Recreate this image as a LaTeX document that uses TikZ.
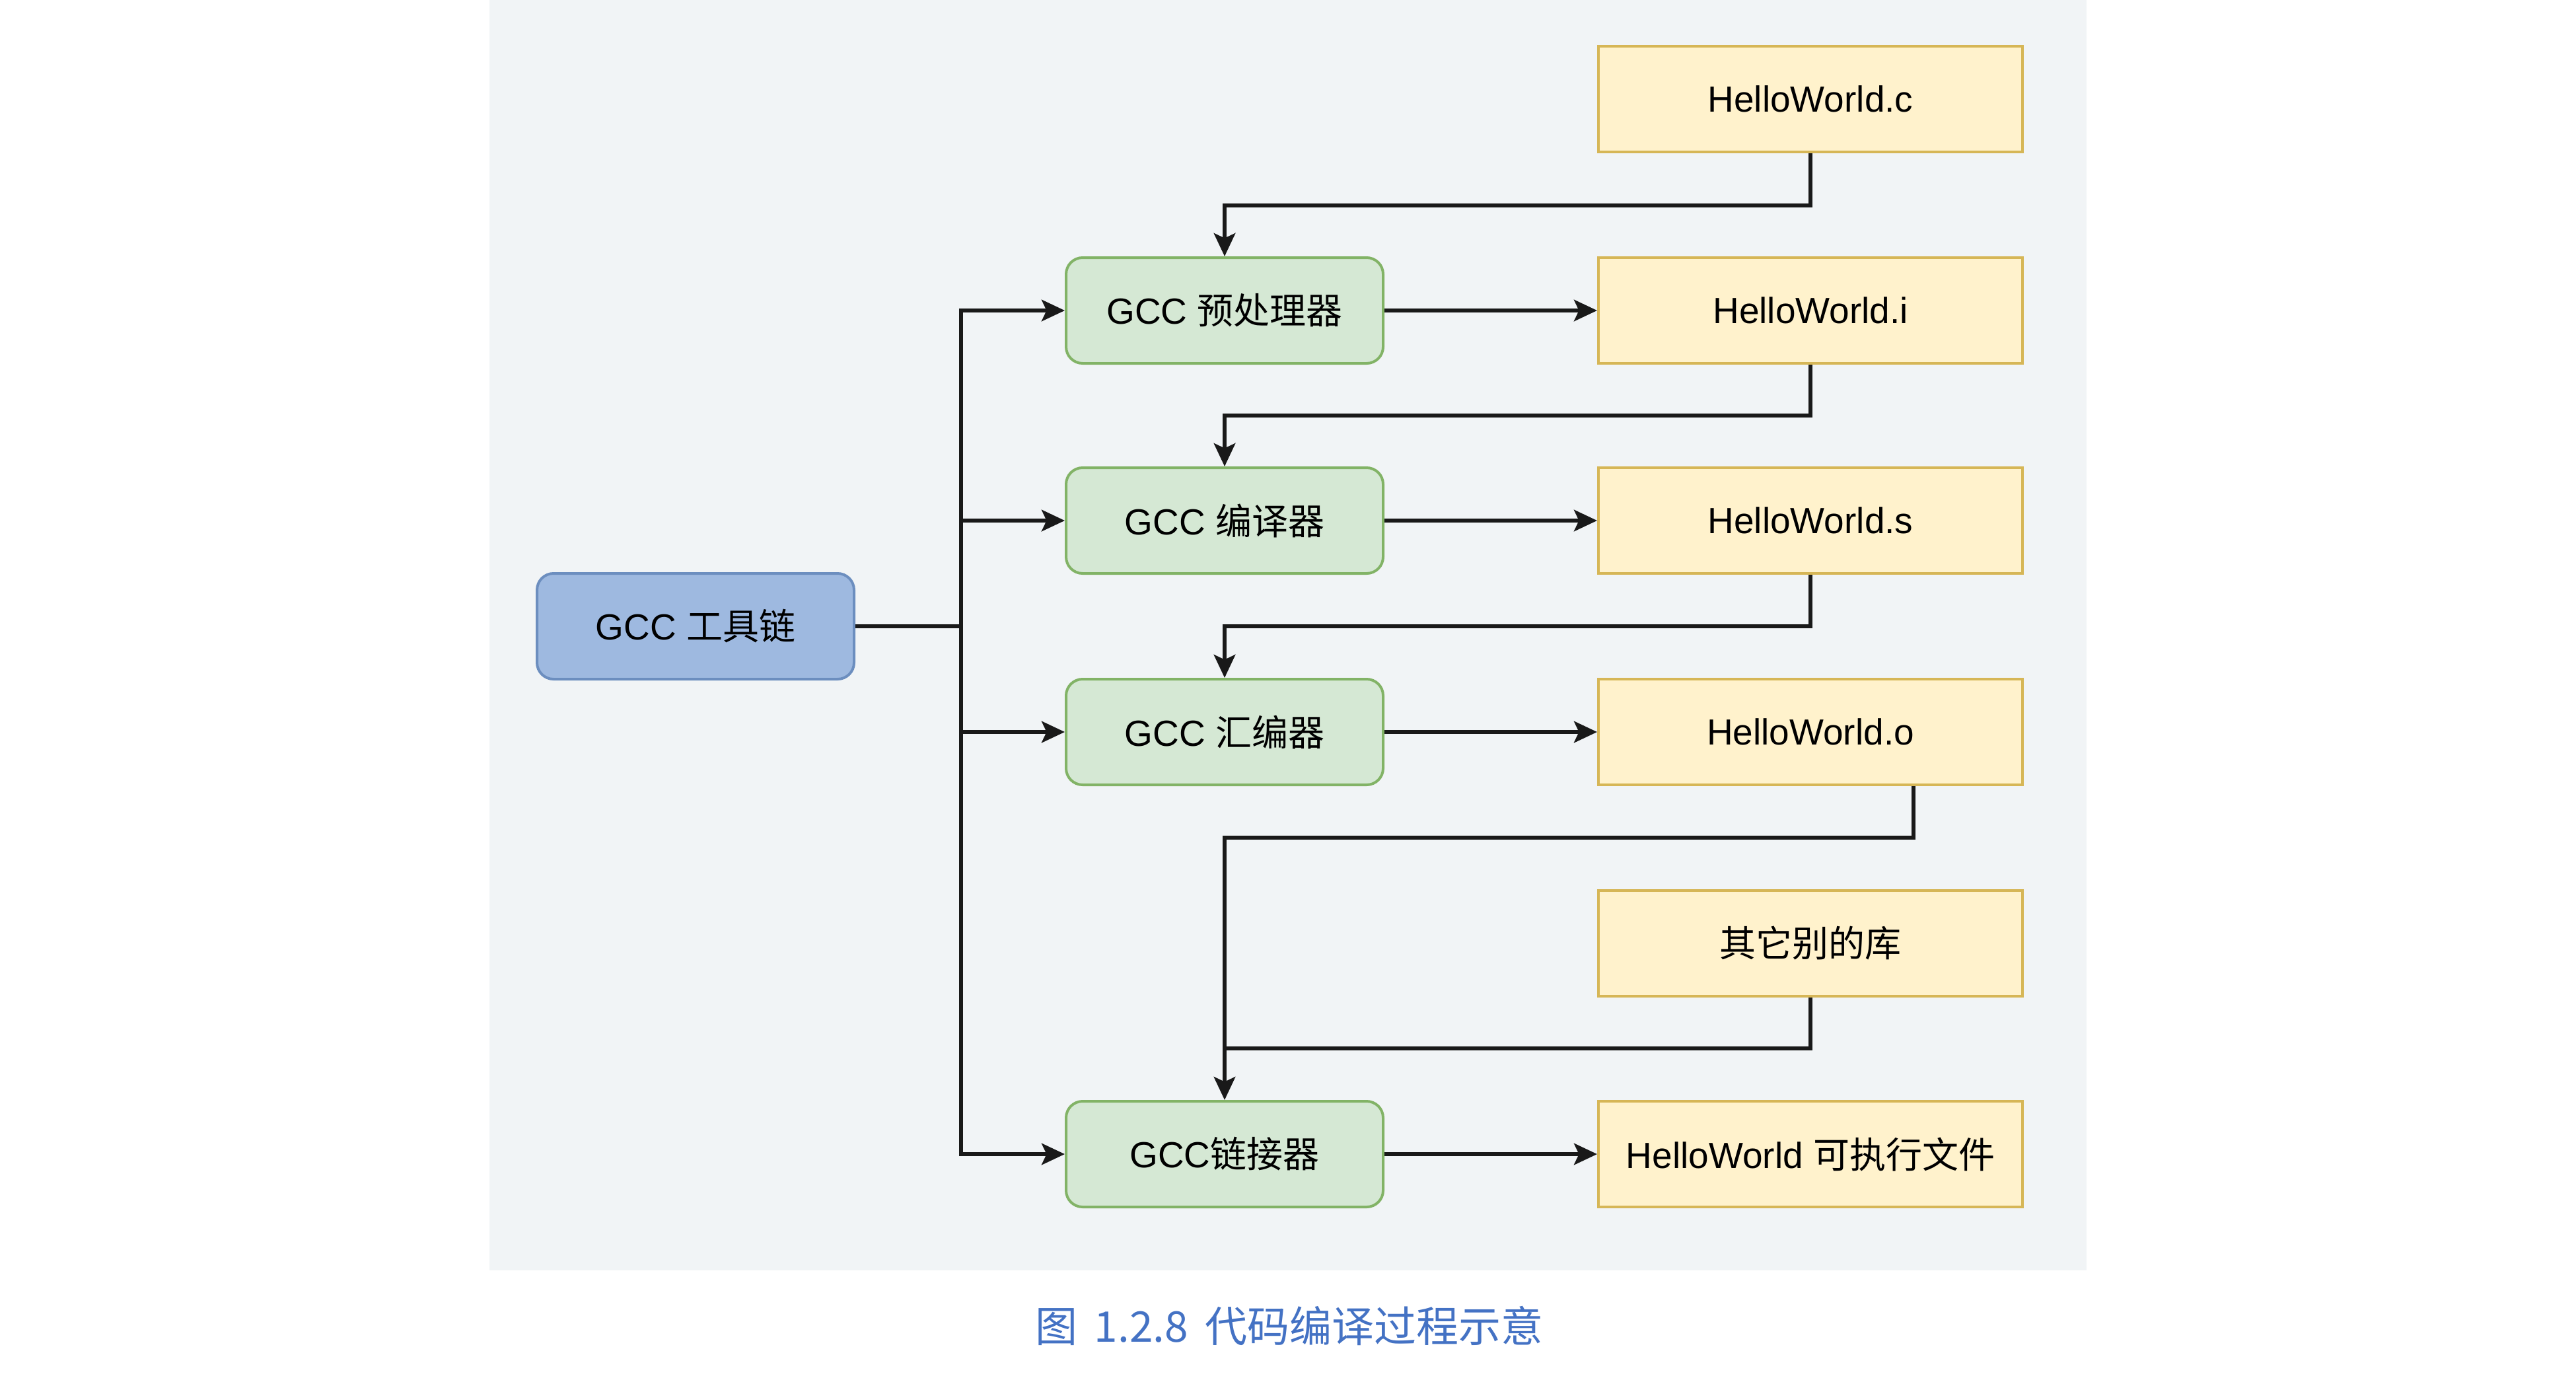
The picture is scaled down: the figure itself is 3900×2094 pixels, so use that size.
\documentclass[tikz,border=0pt]{standalone}
\usepackage{fontspec}
\setmainfont{Liberation Sans}
\newfontfamily\cjk{Noto Sans CJK SC}
\usetikzlibrary{arrows.meta}
\definecolor{panelbg}{HTML}{F1F4F6}
\definecolor{bluefill}{HTML}{9EB9E0}
\definecolor{blueline}{HTML}{6C8EBF}
\definecolor{greenfill}{HTML}{D5E8D4}
\definecolor{greenline}{HTML}{82B366}
\definecolor{yellowfill}{HTML}{FFF2CC}
\definecolor{yellowline}{HTML}{D6B656}
\definecolor{captionblue}{HTML}{4472C4}
\tikzset{
  basebox/.style={inner sep=0pt, minimum height=32pt, line width=0.8pt, font=\fontsize{11}{13}\selectfont, text=black},
  toolbox/.style={basebox, rounded corners=5pt, minimum width=96pt, fill=bluefill, draw=blueline},
  stagebox/.style={basebox, rounded corners=5pt, minimum width=96pt, fill=greenfill, draw=greenline},
  filebox/.style={basebox, minimum width=128.4pt, fill=yellowfill, draw=yellowline},
  conn/.style={line width=1.1pt, black!90},
  arr/.style={conn, -{Stealth[length=7pt,width=6.5pt,inset=1.5pt]}},
}
\begin{document}
\begin{tikzpicture}[x=0.2pt,y=-0.2pt]
\useasboundingbox (0,0) rectangle (3900,2094);
\fill[white] (0,0) rectangle (3900,2094);
\fill[panelbg] (741,0) rectangle (3159,1923);

\node[toolbox] (tool) at (1053,948) {GCC {\cjk 工具链}};
\node[stagebox] (pre) at (1854,470) {GCC {\cjk 预处理器}};
\node[stagebox] (comp) at (1854,788) {GCC {\cjk 编译器}};
\node[stagebox] (asm) at (1854,1108) {GCC {\cjk 汇编器}};
\node[stagebox] (link) at (1854,1747) {GCC{\cjk 链接器}};

\node[filebox] (hc) at (2741,150) {HelloWorld.c};
\node[filebox] (hi) at (2741,470) {HelloWorld.i};
\node[filebox] (hs) at (2741,788) {HelloWorld.s};
\node[filebox] (ho) at (2741,1108) {HelloWorld.o};
\node[filebox] (lib) at (2741,1428) {{\cjk 其它别的库}};
\node[filebox] (exe) at (2741,1747) {HelloWorld {\cjk 可执行文件}};

\coordinate (trunk) at (1455,948);
\coordinate (r1) at (0,311);
\coordinate (r2) at (0,629);
\coordinate (r3) at (0,948);
\coordinate (r4) at (0,1268);
\coordinate (r5) at (0,1587);
\coordinate (ox) at (2897,0);

% trunk
\draw[conn] (tool.east) -- (trunk);
\draw[arr] (trunk) |- (pre.west);
\draw[arr] (trunk) |- (comp.west);
\draw[arr] (trunk) |- (asm.west);
\draw[arr] (trunk) |- (link.west);

% stage -> file
\draw[arr] (pre.east) -- (hi.west);
\draw[arr] (comp.east) -- (hs.west);
\draw[arr] (asm.east) -- (ho.west);
\draw[arr] (link.east) -- (exe.west);

% file -> next stage
\draw[arr] (hc.south) -- (hc.south |- r1) -| (pre.north);
\draw[arr] (hi.south) -- (hi.south |- r2) -| (comp.north);
\draw[arr] (hs.south) -- (hs.south |- r3) -| (asm.north);
\draw[arr] (ho.south -| ox) -- (ox |- r4) -| (link.north);
\draw[conn] (lib.south) -- (lib.south |- r5) -- (link.north |- r5);

\node[font=\cjk\fontsize{12.8}{14}\selectfont, text=captionblue] (cap) at (1952,2007) {图\, 1.2.8\, 代码编译过程示意};
\end{tikzpicture}
\end{document}
